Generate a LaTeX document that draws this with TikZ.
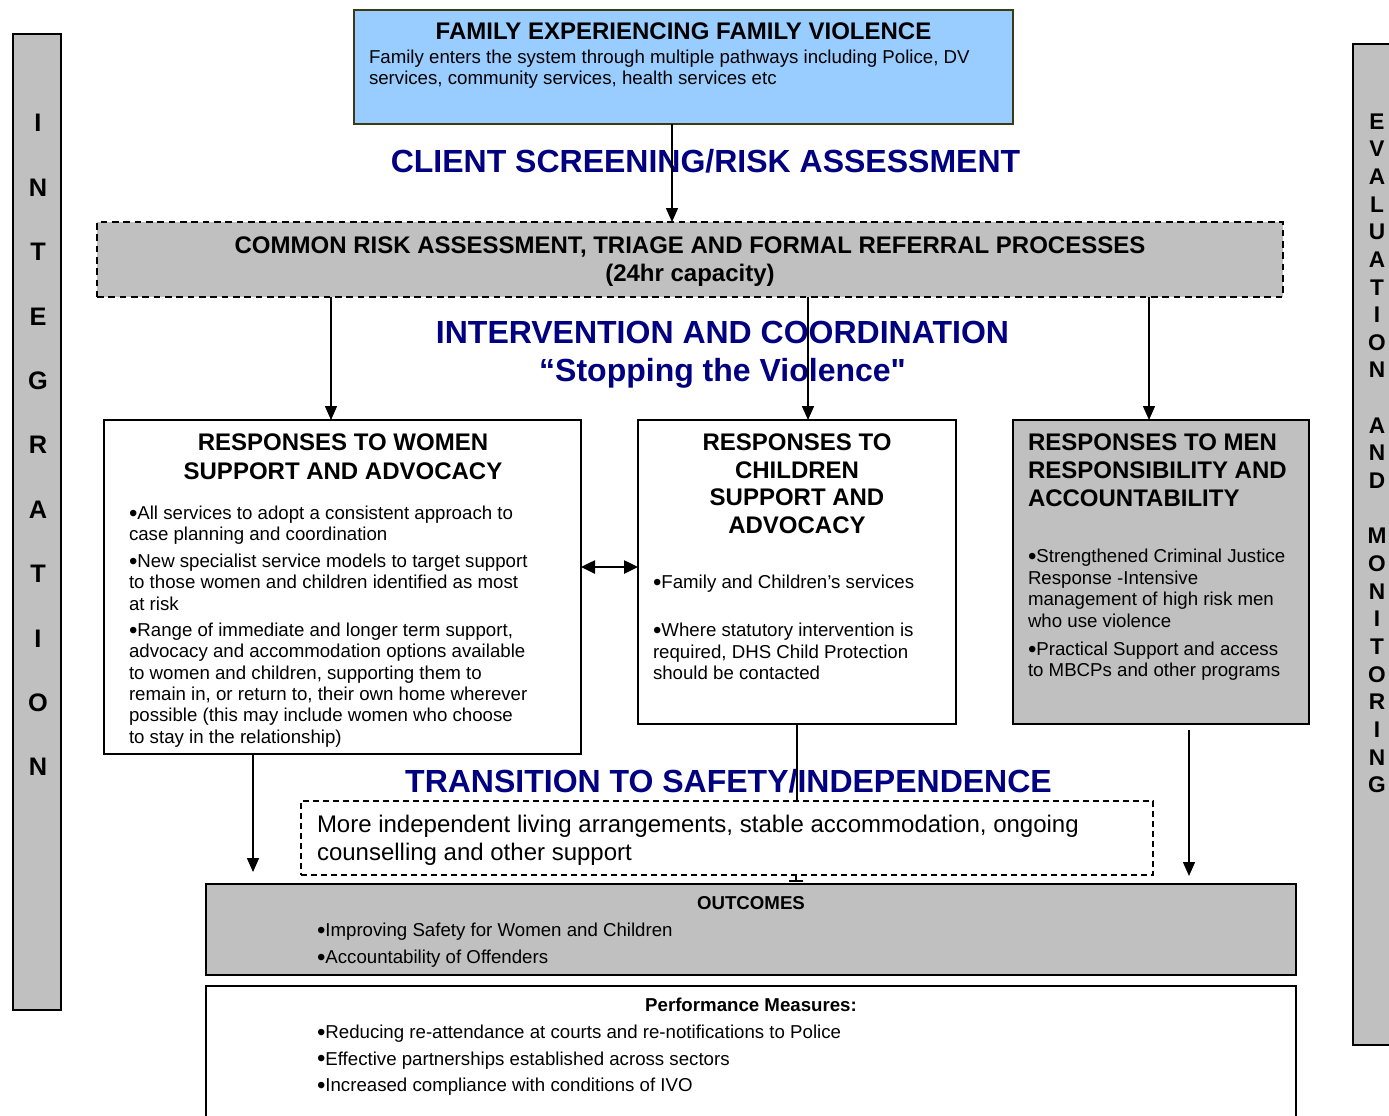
\documentclass[tikz,border=0pt]{standalone}
\usepackage{fontspec}
\setmainfont{Liberation Sans}
\newfontfamily\rawsans{Liberation Sans}
\usetikzlibrary{arrows.meta}
\definecolor{navytxt}{RGB}{0,0,128}
\definecolor{boxgray}{RGB}{192,192,192}
\definecolor{skyfill}{RGB}{153,204,255}
\definecolor{oliveline}{RGB}{60,60,20}
\newcommand\fsz[2]{\fontsize{#1}{#2}\selectfont}
\newcommand\mystrut{\rule{0pt}{1em}}
\newcommand\bul{\raisebox{-1.3pt}{\fontsize{18}{16}\selectfont •}}
\begin{document}
\begin{tikzpicture}[x=0.75pt,y=-0.75pt,
  box/.style={draw=black, line width=1.5pt, inner sep=0pt, outer sep=0pt},
  txt/.style={inner sep=0pt, outer sep=0pt, align=left, anchor=north west},
  ctxt/.style={inner sep=0pt, outer sep=0pt, align=center, anchor=north},
  btxt/.style={inner sep=0pt, outer sep=0pt, anchor=base},
  head/.style={inner sep=0pt, outer sep=0pt, anchor=base, text=navytxt, font=\fsz{24}{28}\bfseries},
  conn/.style={line width=1.1pt, -{Triangle[length=10.5pt,width=9pt]}},
  dashbox/.style={draw=black, dashed, line width=1.1pt, inner sep=0pt, outer sep=0pt},
]
\useasboundingbox (0,0) rectangle (1389,1115);
\clip (0,0) rectangle (1389,1115);

% side bars
\node[box, fill=boxgray, minimum width=36pt, minimum height=732pt] (intbar) at (37,522) {};
\node[ctxt, font=\fsz{19}{48.3}\bfseries] (intlbl) at (38,106.6) {\mystrut I\\N\\T\\E\\G\\R\\A\\T\\I\\O\\N};
\node[box, fill=boxgray, minimum width=36pt, minimum height=750.75pt] (evalbar) at (1377,544.5) {};
\node[ctxt, font=\fsz{17}{20.74}\bfseries] (evallbl) at (1377,106.4) {\mystrut E\\V\\A\\L\\U\\A\\T\\I\\O\\N\\\mbox{}\\A\\N\\D\\\mbox{}\\M\\O\\N\\I\\T\\O\\R\\I\\N\\G};

% top box
\node[box, fill=skyfill, draw=oliveline, minimum width=494.25pt, minimum height=85.5pt] (family) at (683.5,67) {};
\node[btxt, font=\fsz{18}{21}\bfseries] (familyttl) at (683.5,39.6) {FAMILY EXPERIENCING FAMILY VIOLENCE};
\node[txt, font=\fsz{14}{15.75}] (familytxt) at (369,44.9) {\mystrut Family enters the system through multiple pathways including Police, DV\\services, community services, health services etc};

\node[head] (screening) at (705.5,172.5) {CLIENT SCREENING/RISK ASSESSMENT};

% common risk assessment
\node[dashbox, fill=boxgray, dash pattern=on 5pt off 3.5pt, minimum width=889.5pt, minimum height=56.25pt] (crisk) at (690,259.5) {};
\node[ctxt, font=\fsz{18}{21}\bfseries] (crisktxt) at (690,229.6) {\mystrut COMMON RISK ASSESSMENT, TRIAGE AND FORMAL REFERRAL PROCESSES\\(24hr capacity)};

\node[head] (interv) at (722.5,343.5) {INTERVENTION AND COORDINATION};
\node[head] (stopping) at (722.5,381.5) {“Stopping the Violence{\rawsans\bfseries "}};

% women
\node[box, fill=white, minimum width=357.75pt, minimum height=250.5pt] (women) at (342.5,587) {};
\node[ctxt, font=\fsz{18}{21.75}\bfseries] (womenttl) at (343,426.6) {\mystrut RESPONSES TO WOMEN\\SUPPORT AND ADVOCACY};
\node[txt, font=\fsz{14}{16}] (womenp1) at (129,500.9) {\mystrut \bul All services to adopt a consistent approach to\\case planning and coordination};
\node[txt, font=\fsz{14}{16}] (womenp2) at (129,548.9) {\mystrut \bul New specialist service models to target support\\to those women and children identified as most\\at risk};
\node[txt, font=\fsz{14}{16}] (womenp3) at (129,617.9) {\mystrut \bul Range of immediate and longer term support,\\advocacy and accommodation options available\\to women and children,  supporting them to\\remain in, or return to, their own home wherever\\possible (this may include women who choose\\to stay in the relationship)};

% children
\node[box, fill=white, minimum width=238.5pt, minimum height=228pt] (children) at (797,572) {};
\node[ctxt, font=\fsz{18}{20.75}\bfseries] (childttl) at (797,426.6) {\mystrut RESPONSES TO\\CHILDREN\\SUPPORT AND\\ADVOCACY};
\node[txt, font=\fsz{14}{16.1}] (childp1) at (653,569.9) {\mystrut \bul Family and Children’s services};
\node[txt, font=\fsz{14}{16.1}] (childp2) at (653,617.9) {\mystrut \bul Where statutory intervention is\\required, DHS Child Protection\\should be contacted};

% men
\node[box, fill=boxgray, minimum width=222pt, minimum height=228pt] (men) at (1161,572) {};
\node[txt, font=\fsz{18}{21}\bfseries] (menttl) at (1028,426.6) {\mystrut RESPONSES TO MEN\\RESPONSIBILITY AND\\ACCOUNTABILITY};
\node[txt, font=\fsz{14}{16.25}] (menp1) at (1028,543.9) {\mystrut \bul Strengthened Criminal Justice\\Response -Intensive\\management of high risk men\\who use violence};
\node[txt, font=\fsz{14}{16}] (menp2) at (1028,636.9) {\mystrut \bul Practical Support and access\\to MBCPs and other programs};

% transition
\node[head] (transhd) at (728.5,792.5) {TRANSITION TO SAFETY/INDEPENDENCE};
\node[dashbox, fill=white, dash pattern=on 4.5pt off 3pt, minimum width=639pt, minimum height=55.5pt] (trans) at (727,838) {};
\node[txt, font=\fsz{18}{21}] (transtxt) at (317,808.2) {\mystrut More independent living arrangements, stable accommodation, ongoing\\counselling and other support};

% outcomes
\node[box, fill=boxgray, line width=2pt, minimum width=817.5pt, minimum height=68.25pt] (outcomes) at (751,929.5) {};
\node[btxt, font=\fsz{14}{16}\bfseries] (outttl) at (751,909.7) {OUTCOMES};
\node[txt, font=\fsz{14}{20.25}] (outtxt) at (317,917.9) {\mystrut \bul Improving Safety for Women and Children\\\bul Accountability of Offenders};

% performance
\node[box, fill=white, minimum width=817.5pt, minimum height=108pt] (perf) at (751,1058) {};
\node[btxt, font=\fsz{14}{16}\bfseries] (perfttl) at (751,1011.6) {Performance Measures:};
\node[txt, font=\fsz{14}{19.9}] (perftxt) at (317,1019.9) {\mystrut \bul Reducing re-attendance at courts and re-notifications to Police\\\bul Effective partnerships established across sectors\\\bul Increased compliance with conditions of IVO};

% connectors
\draw[conn] (family.south -| 672,0) -- (crisk.north -| 672,0);
\draw[conn] (crisk.south -| 331,0) -- (women.north -| 331,0);
\draw[conn] (crisk.south -| 808,0) -- (children.north -| 808,0);
\draw[conn] (crisk.south -| 1149,0) -- (men.north -| 1149,0);
\draw[line width=1.1pt, {Triangle[length=10.5pt,width=10pt]}-{Triangle[length=10.5pt,width=10pt]}] (women.east |- 0,567) -- (children.west |- 0,567);
\coordinate (wend) at (253,872);
\draw[conn] (women.south -| wend) -- (wend);
\coordinate (mstart) at (1189,730);
\coordinate (mend) at (1189,876);
\draw[conn] (mstart) -- (mend);
\draw[line width=1.1pt] (children.south -| 797,0) -- (trans.north -| 797,0);
\coordinate (tick) at (796,881.5);
\draw[line width=1.1pt, -{Bar[width=11pt,line width=1.5pt]}] (trans.south -| tick) -- (tick);
\end{tikzpicture}
\end{document}
